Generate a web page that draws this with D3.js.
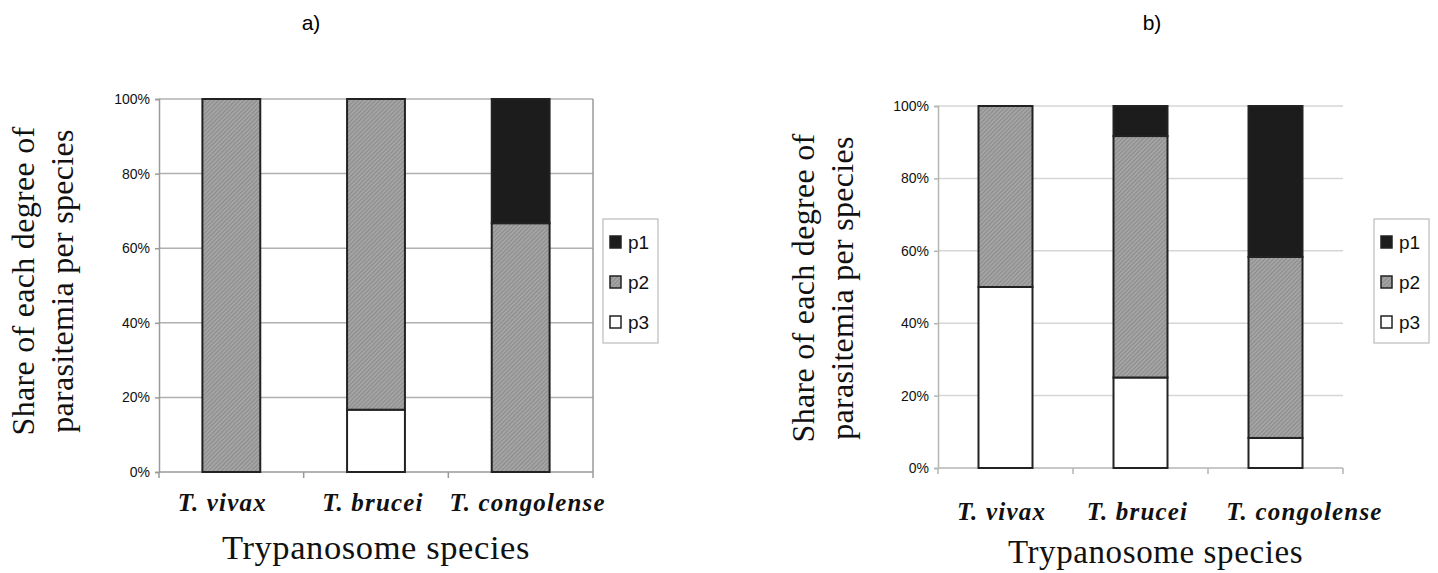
<!DOCTYPE html>
<html>
<head>
<meta charset="utf-8">
<script src="https://cdn.jsdelivr.net/npm/d3@7/dist/d3.min.js"></script>
<style>
  html, body { margin: 0; padding: 0; background: #fff; }
  svg { display: block; }
</style>
</head>
<body>
<svg id="chart" width="1438" height="573"></svg>
<script>
"use strict";

/* ── Data ── */
const species = ["T. vivax", "T. brucei", "T. congolense"];
const levels  = ["p1", "p2", "p3"];
const yTicks  = [0, 20, 40, 60, 80, 100];

// panel a) share (%) of each parasitemia degree per species
const aP1 = [0, 0, 33.3];
const aP2 = [100, 83.3, 66.7];
const aP3 = [0, 16.7, 0];

// panel b)
const bP1 = [0, 8.3, 41.7];
const bP2 = [50, 66.7, 50];
const bP3 = [50, 25, 8.3];

const svg = d3.select("#chart");

/* ── Fills ── */
const defs = svg.append("defs");
const hatch = defs.append("pattern")
  .attr("id", "hatch")
  .attr("patternUnits", "userSpaceOnUse")
  .attr("width", 3).attr("height", 3)
  .attr("patternTransform", "rotate(45)");
hatch.append("rect").attr("width", 3).attr("height", 3).attr("fill", "#a4a4a4");
hatch.append("line").attr("x1", 0).attr("y1", 0).attr("x2", 0).attr("y2", 3)
  .attr("stroke", "#7a7a7a").attr("stroke-width", 1.2);

const fill = { p1: "#1c1c1c", p2: "url(#hatch)", p3: "#ffffff" };

function rows(p1, p2, p3) {
  return species.map((s, i) => ({ species: s, p1: p1[i], p2: p2[i], p3: p3[i] }));
}

/* ── One panel ── */
function drawPanel(cfg) {
  const { left, right, top, bottom } = cfg;
  const g = svg.append("g");

  const x = d3.scaleBand().domain(species).range([left, right])
    .paddingInner(0.6).paddingOuter(0.3);
  const y = d3.scaleLinear().domain([0, 100]).range([bottom, top]);

  // panel label
  g.append("text")
    .attr("x", cfg.labelX).attr("y", 30)
    .attr("text-anchor", "middle")
    .attr("font-family", "Liberation Sans, Arial, sans-serif")
    .attr("font-size", 21)
    .text(cfg.label);

  // gridlines
  g.selectAll(".grid").data(yTicks.filter(d => d > 0)).join("line")
    .attr("x1", left).attr("x2", right)
    .attr("y1", d => y(d)).attr("y2", d => y(d))
    .attr("stroke", cfg.gridColor).attr("stroke-width", 1.5);

  // y axis
  g.append("g")
    .attr("transform", `translate(${left},0)`)
    .call(d3.axisLeft(y).tickValues(yTicks).tickSize(4).tickPadding(5).tickFormat(d => d + "%"))
    .call(a => {
      a.select(".domain").attr("stroke", cfg.axisColor).attr("stroke-width", 1.5);
      a.selectAll(".tick line").attr("stroke", cfg.axisColor).attr("stroke-width", 1.5);
      a.selectAll(".tick text")
        .attr("fill", "#111")
        .attr("font-family", "Liberation Sans, Arial, sans-serif")
        .attr("font-size", 14);
    });

  // right frame (panel a only)
  if (cfg.rightFrame) {
    g.append("line")
      .attr("x1", right).attr("x2", right).attr("y1", top).attr("y2", bottom)
      .attr("stroke", cfg.axisColor).attr("stroke-width", 1.5);
  }

  // x axis line + boundary ticks
  g.append("line")
    .attr("x1", left).attr("x2", right).attr("y1", bottom).attr("y2", bottom)
    .attr("stroke", cfg.axisColor).attr("stroke-width", 1.5);
  const bounds = d3.range(species.length + 1).map(i => left + i * x.step());
  g.selectAll(".xtick").data(bounds).join("line")
    .attr("x1", d => d).attr("x2", d => d)
    .attr("y1", bottom).attr("y2", bottom + 6)
    .attr("stroke", cfg.axisColor).attr("stroke-width", 1.5);

  // stacked bars
  const data = rows(cfg.p1, cfg.p2, cfg.p3);
  const stack = d3.stack().keys(["p3", "p2", "p1"])(data);
  g.selectAll(".layer").data(stack).join("g")
    .attr("fill", d => fill[d.key])
    .selectAll("rect").data(d => d.filter(v => v[1] - v[0] > 0)).join("rect")
    .attr("x", d => x(d.data.species))
    .attr("width", x.bandwidth())
    .attr("y", d => y(d[1]))
    .attr("height", d => y(d[0]) - y(d[1]))
    .attr("stroke", "#222")
    .attr("stroke-width", 2);

  // category labels
  g.selectAll(".cat").data(species).join("text")
    .attr("x", (d, i) => x(d) + x.bandwidth() / 2 + cfg.catDx[i])
    .attr("y", cfg.catY)
    .attr("text-anchor", "middle")
    .attr("font-family", "Liberation Serif, Times New Roman, serif")
    .attr("font-style", "italic")
    .attr("font-weight", "bold")
    .attr("font-size", 25)
    .attr("letter-spacing", 1.2)
    .attr("fill", "#111")
    .text(d => d);

  // x title
  g.append("text")
    .attr("x", (left + right) / 2 + cfg.titleDx).attr("y", cfg.titleY)
    .attr("text-anchor", "middle")
    .attr("font-family", "Liberation Serif, Times New Roman, serif")
    .attr("font-size", cfg.titleSize)
    .attr("letter-spacing", 0.6)
    .attr("fill", "#111")
    .text("Trypanosome species");

  // y title (two lines)
  const yt = g.append("text")
    .attr("transform", `translate(${cfg.yTitleX},${cfg.yTitleY}) rotate(-90)`)
    .attr("text-anchor", "middle")
    .attr("font-family", "Liberation Serif, Times New Roman, serif")
    .attr("font-size", 32)
    .attr("letter-spacing", 0.3)
    .attr("fill", "#111");
  yt.append("tspan").attr("x", 0).attr("dy", 0).text("Share of each degree of");
  yt.append("tspan").attr("x", 0).attr("dy", 39).text("parasitemia per species");

  // legend
  const lg = g.append("g").attr("transform", `translate(${cfg.legendX},${cfg.legendY})`);
  lg.append("rect").attr("width", 55).attr("height", 124)
    .attr("fill", "#fff").attr("stroke", "#bbb").attr("stroke-width", 1.2);
  const item = lg.selectAll(".item").data(levels).join("g")
    .attr("transform", (d, i) => `translate(0,${23 + i * 40})`);
  item.append("rect")
    .attr("x", 7).attr("y", -6).attr("width", 11).attr("height", 12)
    .attr("fill", d => fill[d]).attr("stroke", "#222").attr("stroke-width", 1.5);
  item.append("text")
    .attr("x", 25).attr("y", 7)
    .attr("font-family", "Liberation Sans, Arial, sans-serif")
    .attr("font-size", 19)
    .attr("fill", "#111")
    .text(d => d);
}

drawPanel({
  label: "a)", labelX: 311,
  left: 159, right: 593, top: 99, bottom: 472,
  p1: aP1, p2: aP2, p3: aP3,
  gridColor: "#b0b0b0", axisColor: "#9a9a9a", rightFrame: true,
  catY: 511, catDx: [-9, -3, 7],
  titleY: 559, titleDx: 0, titleSize: 34.5,
  yTitleX: 34, yTitleY: 281,
  legendX: 603, legendY: 219
});

drawPanel({
  label: "b)", labelX: 1152,
  left: 938, right: 1343, top: 106, bottom: 468,
  p1: bP1, p2: bP2, p3: bP3,
  gridColor: "#d6d6d6", axisColor: "#b5b5b5", rightFrame: false,
  catY: 520, catDx: [-4, -3, 29],
  titleY: 563, titleDx: 15, titleSize: 33,
  yTitleX: 814, yTitleY: 288,
  legendX: 1374, legendY: 219
});
</script>
</body>
</html>
